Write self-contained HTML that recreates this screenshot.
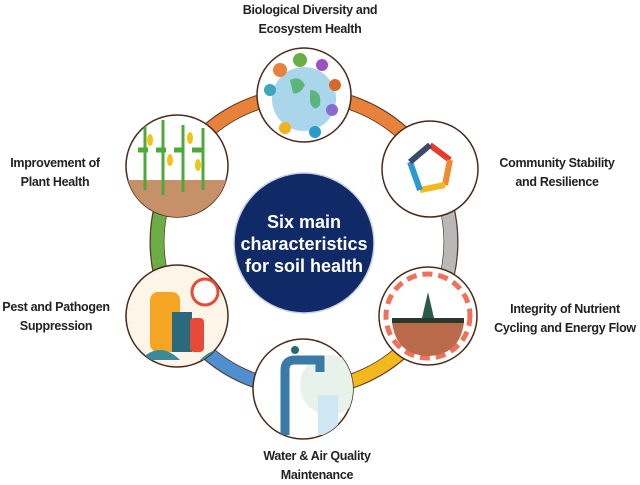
<!DOCTYPE html>
<html><head><meta charset="utf-8"><style>
body{margin:0;background:#fff;width:640px;height:481px;overflow:hidden;position:relative;font-family:"Liberation Sans Narrow","Liberation Sans",sans-serif;}
.l{position:absolute;font-weight:bold;font-size:12.5px;letter-spacing:-0.3px;line-height:19px;color:#222;text-align:center;white-space:nowrap}
</style></head><body>
<svg width="640" height="481" style="position:absolute;left:0;top:0">
<g fill="none" stroke-width="13">
<circle cx="304" cy="242" r="147" stroke="#5a3a2a" stroke-width="15"/>
<path d="M304 95 A147 147 0 0 1 431 168.5" stroke="#e8823a"/>
<path d="M304 95 A147 147 0 0 0 177 168.5" stroke="#e8823a"/>
<path d="M431 168.5 A147 147 0 0 1 431 315.5" stroke="#b8b8b8"/>
<path d="M431 315.5 A147 147 0 0 1 304 389" stroke="#f2b81c"/>
<path d="M304 389 A147 147 0 0 1 177 315.5" stroke="#4f8fd0"/>
<path d="M177 315.5 A147 147 0 0 1 177 168.5" stroke="#6aae45"/>
</g>
<defs>
<clipPath id="c1"><circle cx="304" cy="95" r="46"/></clipPath>
<clipPath id="c2"><circle cx="430" cy="169" r="48"/></clipPath>
<clipPath id="c3"><circle cx="428" cy="316" r="49"/></clipPath>
<clipPath id="c4"><circle cx="303" cy="389" r="50"/></clipPath>
<clipPath id="c5"><circle cx="177" cy="316" r="51"/></clipPath>
<clipPath id="c6"><circle cx="177" cy="166" r="51"/></clipPath>
</defs>
<circle cx="304" cy="95" r="47" fill="#fff" stroke="#4a2a1a" stroke-width="1.5"/>
<g clip-path="url(#c1)">
<circle cx="304" cy="99" r="32" fill="#a9d6ea"/>
<path d="M290 80 q10 -5 15 5 q-5 10 -12 8z M310 90 q12 0 10 15 q-6 8 -10 -3z" fill="#5cb67c"/>
<circle cx="280" cy="70" r="7" fill="#e8823a"/><circle cx="300" cy="60" r="7" fill="#6aae45"/>
<circle cx="322" cy="65" r="6" fill="#9b4fc0"/><circle cx="335" cy="85" r="6" fill="#d9692b"/>
<circle cx="270" cy="90" r="6" fill="#3aa8b8"/><circle cx="332" cy="110" r="6" fill="#8a6bd1"/>
<circle cx="285" cy="128" r="6" fill="#f0b020"/><circle cx="315" cy="132" r="6" fill="#2a9ad0"/>
</g>
<circle cx="430" cy="169" r="48" fill="#fff" stroke="#4a2a1a" stroke-width="1.5"/>
<g fill="none" stroke-width="6">
<path d="M430 145 L450 160" stroke="#e63a2a"/><path d="M450 160 L445 185" stroke="#f08a2a"/>
<path d="M445 185 L420 190" stroke="#f2b81c"/><path d="M420 190 L410 162" stroke="#2a9ad0"/>
<path d="M410 162 L430 145" stroke="#3a4a6a"/>
</g>
<circle cx="428" cy="316" r="49" fill="#fff" stroke="#4a2a1a" stroke-width="1.5"/>
<g clip-path="url(#c3)">
<circle cx="428" cy="316" r="42" fill="none" stroke="#f0705a" stroke-width="5" stroke-dasharray="10 6"/>
<path d="M392 322 L464 322 Q460 355 428 356 Q396 355 392 322z" fill="#b86a4a"/>
<rect x="392" y="318" width="72" height="5" fill="#2a3a2a"/>
<path d="M422 318 L428 292 L434 318z" fill="#2a5a4a"/>
</g>
<circle cx="303" cy="389" r="50" fill="#fff" stroke="#4a2a1a" stroke-width="1.5"/>
<g clip-path="url(#c4)">
<circle cx="330" cy="385" r="30" fill="#e6f2ea"/>
<path d="M285 435 L285 370 Q285 360 295 360 L320 360 L320 372" fill="none" stroke="#3a7aa8" stroke-width="9"/>
<rect x="318" y="395" width="20" height="40" fill="#cfe6f4"/>
<circle cx="295" cy="350" r="4" fill="#2a6a6a"/>
</g>
<circle cx="177" cy="316" r="51" fill="#fdf6e8" stroke="#4a2a1a" stroke-width="1.5"/>
<g clip-path="url(#c5)">
<rect x="150" y="292" width="30" height="60" rx="8" fill="#f5a524"/>
<rect x="172" y="312" width="20" height="40" fill="#2a6a7a"/>
<rect x="190" y="318" width="14" height="34" rx="4" fill="#e84a3a"/>
<circle cx="205" cy="292" r="13" fill="#fff" stroke="#e84a3a" stroke-width="3"/>
<path d="M140 360 Q160 340 180 360z M200 360 Q220 340 235 360z" fill="#3a8a9a"/>
</g>
<circle cx="177" cy="166" r="51" fill="#fff" stroke="#4a2a1a" stroke-width="1.5"/>
<g clip-path="url(#c6)">
<rect x="120" y="180" width="120" height="45" fill="#c69068"/>
<g stroke="#4caa3a" stroke-width="3">
<line x1="145" y1="125" x2="145" y2="190"/><line x1="163" y1="120" x2="163" y2="195"/>
<line x1="183" y1="125" x2="183" y2="192"/><line x1="203" y1="128" x2="203" y2="190"/>
<line x1="138" y1="150" x2="210" y2="150" stroke-width="5" stroke-dasharray="10 8"/>
</g>
<g fill="#f2c418"><ellipse cx="150" cy="140" rx="3" ry="6"/><ellipse cx="170" cy="160" rx="3" ry="6"/><ellipse cx="190" cy="138" rx="3" ry="6"/><ellipse cx="198" cy="165" rx="3" ry="6"/></g>
</g>
<circle cx="304" cy="243" r="70" fill="#0f2a66" stroke="#c8d0e0" stroke-width="1.5"/>
<g font-family="Liberation Sans, sans-serif" font-weight="bold" font-size="18" fill="#fff" text-anchor="middle">
<text x="304" y="228">Six main</text>
<text x="304" y="250">characteristics</text>
<text x="304" y="272">for soil health</text>
</g>
</svg>
<div class="l" style="left:230px;top:1px;width:160px">Biological Diversity and<br>Ecosystem Health</div>
<div class="l" style="left:490px;top:154px;width:134px">Community Stability<br>and Resilience</div>
<div class="l" style="left:492px;top:300px;width:146px">Integrity of Nutrient<br>Cycling and Energy Flow</div>
<div class="l" style="left:237px;top:447px;width:160px">Water &amp; Air Quality<br>Maintenance</div>
<div class="l" style="left:0px;top:154px;width:110px">Improvement of<br>Plant Health</div>
<div class="l" style="left:-4px;top:298px;width:120px">Pest and Pathogen<br>Suppression</div>
</body></html>
